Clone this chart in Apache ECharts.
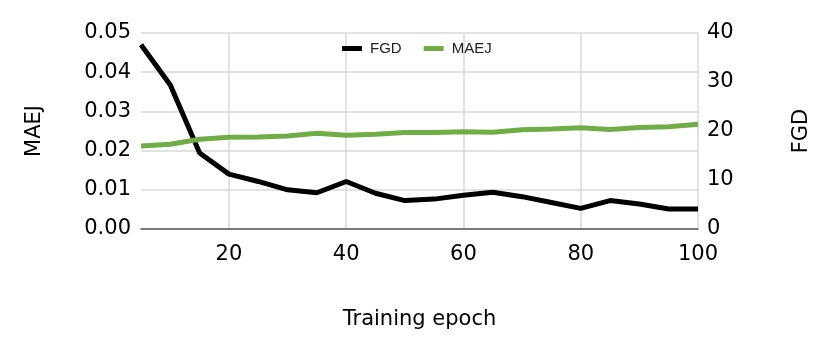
<!DOCTYPE html>
<html>
<head>
<meta charset="utf-8">
<script src="https://cdn.jsdelivr.net/npm/echarts@6/dist/echarts.min.js"></script>
<style>
  html, body { margin: 0; padding: 0; background: #fff; }
  #chart { width: 830px; height: 348px; }
</style>
</head>
<body>
<div id="chart"></div>
<script>
  // training epochs
  var epochs = [5, 10, 15, 20, 25, 30, 35, 40, 45, 50, 55, 60, 65, 70, 75, 80, 85, 90, 95, 100];
  // FGD (right axis)
  var fgd = [37.6, 29.4, 15.5, 11.2, 9.7, 8.0, 7.4, 9.7, 7.3, 5.8, 6.1, 6.9, 7.5, 6.6, 5.4, 4.2, 5.8, 5.1, 4.1, 4.1];
  // MAEJ (left axis)
  var maej = [0.0212, 0.0216, 0.0229, 0.0234, 0.0235, 0.0237, 0.0244, 0.0239, 0.0242, 0.0246,
              0.0246, 0.0248, 0.0247, 0.0253, 0.0255, 0.0258, 0.0254, 0.0259, 0.0261, 0.0267];
  var xTicks = [20, 40, 60, 80, 100];

  var tickFont = { fontFamily: 'DejaVu Sans', fontSize: 21, color: '#000' };

  var chart = echarts.init(document.getElementById('chart'));
  chart.setOption({
    animation: false,
    grid: { left: 141, right: 132, top: 33, bottom: 119 },
    legend: {
      top: 36,
      left: 337,
      itemWidth: 20,
      itemHeight: 5,
      itemGap: 22,
      icon: 'rect',
      textStyle: { fontFamily: 'Liberation Sans', fontSize: 15, color: '#222', padding: [0, 0, 0, 3] },
      data: ['FGD', 'MAEJ']
    },
    xAxis: {
      type: 'value',
      min: 5,
      max: 100,
      name: 'Training epoch',
      nameLocation: 'middle',
      nameGap: 80,
      nameTextStyle: { fontFamily: 'DejaVu Sans', fontSize: 21, color: '#000' },
      axisLine: { show: true, lineStyle: { color: '#595959', width: 1.5 } },
      axisTick: { show: false, customValues: xTicks },
      axisLabel: Object.assign({ customValues: xTicks, margin: 15 }, tickFont),
      splitLine: { show: true, lineStyle: { color: '#d9d9d9', width: 1.5 } }
    },
    yAxis: [
      {
        type: 'value',
        min: 0,
        max: 0.05,
        interval: 0.01,
        name: 'MAEJ',
        nameLocation: 'middle',
        nameRotate: 90,
        nameGap: 96,
        nameTextStyle: { fontFamily: 'DejaVu Sans', fontSize: 21, color: '#000' },
        axisLine: { show: false },
        axisTick: { show: false },
        axisLabel: Object.assign({ margin: 10, formatter: function (v) { return v.toFixed(2); } }, tickFont),
        splitLine: { show: true, lineStyle: { color: '#d9d9d9', width: 1.5 } }
      },
      {
        type: 'value',
        min: 0,
        max: 40,
        interval: 10,
        name: 'FGD',
        nameLocation: 'middle',
        nameRotate: 90,
        nameGap: 93,
        nameTextStyle: { fontFamily: 'DejaVu Sans', fontSize: 21, color: '#000' },
        axisLine: { show: false },
        axisTick: { show: false },
        axisLabel: Object.assign({ margin: 9 }, tickFont),
        splitLine: { show: false }
      }
    ],
    series: [
      {
        name: 'FGD',
        type: 'line',
        yAxisIndex: 1,
        data: epochs.map(function (e, i) { return [e, fgd[i]]; }),
        showSymbol: false,
        itemStyle: { color: '#000' },
        lineStyle: { color: '#000', width: 5 }
      },
      {
        name: 'MAEJ',
        type: 'line',
        yAxisIndex: 0,
        data: epochs.map(function (e, i) { return [e, maej[i]]; }),
        showSymbol: false,
        itemStyle: { color: '#70ad47' },
        lineStyle: { color: '#70ad47', width: 5 }
      }
    ]
  });
</script>
</body>
</html>
